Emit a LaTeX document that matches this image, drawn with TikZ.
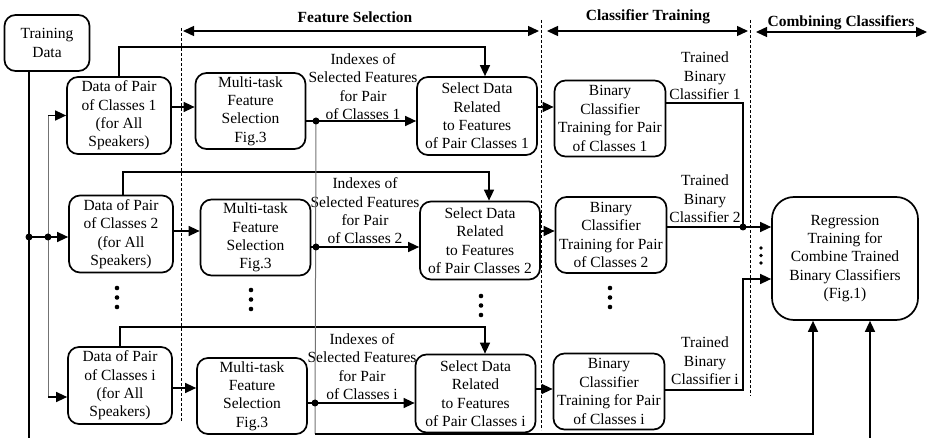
\documentclass[tikz,border=0pt]{standalone}
\usepackage{fontspec}
\setmainfont{Liberation Serif}
\usetikzlibrary{arrows.meta}
\newcommand{\boxfont}{\fontsize{15.5}{18.4}\selectfont}

\begin{document}
\begin{tikzpicture}[x=1pt, y=-1pt, line width=1.4pt,
  box/.style={draw, rounded corners=11pt, line width=1.7pt, inner sep=0pt,
    align=center, font=\boxfont},
  databox/.style={box, minimum width=104, minimum height=77},
  mtbox/.style={box, minimum width=110, minimum height=76},
  selbox/.style={box, minimum width=120, minimum height=78},
  binbox/.style={box, minimum width=111, minimum height=76},
  lbl/.style={align=center, inner sep=0pt, font=\boxfont},
  hdr/.style={inner sep=0pt, font=\boxfont\bfseries},
  arr/.style={-{Triangle[length=11pt,width=10pt]}},
  darr/.style={{Triangle[length=11pt,width=10pt]}-{Triangle[length=11pt,width=10pt]}},
  sep/.style={dashed, line width=0.7pt, dash pattern=on 3pt off 2pt},
  feed/.style={draw=black!55, line width=1pt},
  dot/.style={circle, fill, inner sep=0pt, minimum size=7pt}]
  \useasboundingbox (0,0) rectangle (927,438);

  % headers
  \node[hdr] (hfs) at (355,17) {Feature Selection};
  \node[hdr] (hct) at (648,17) {Classifier Training};
  \node[hdr] (hcc) at (841,23) {Combining Classifiers};
  \draw[darr] (183,31) -- (539,31);
  \draw[darr] (547,31) -- (748,31);
  \draw[darr] (756,32) -- (927,32);
  \draw[sep] (181,28) -- (181,422);
  \draw[sep] (541,20) -- (541,430);
  \draw[sep] (750,20) -- (750,396);

  % boxes
  \node[box, minimum width=85, minimum height=56] (td) at (47,43) {Training\\Data};
  \node[databox] (d1) at (119,115.5) {Data of Pair\\of Classes 1\\(for All\\Speakers)};
  \node[databox] (d2) at (121,234) {Data of Pair\\of Classes 2\\(for All\\Speakers)};
  \node[databox] (di) at (120,385.5) {Data of Pair\\of Classes i\\(for All\\Speakers)};
  \node[mtbox] (m1) at (250.5,111) {Multi-task\\Feature\\Selection\\Fig.3};
  \node[mtbox] (m2) at (255.5,237.5) {Multi-task\\Feature\\Selection\\Fig.3};
  \node[mtbox] (mi) at (252,396) {Multi-task\\Feature\\Selection\\Fig.3};
  \node[selbox] (s1) at (477,116) {Select Data\\Related\\to Features\\of Pair Classes 1};
  \node[selbox] (s2) at (480,240.5) {Select Data\\Related\\to Features\\of Pair Classes 2};
  \node[selbox] (si) at (475.5,393.5) {Select Data\\Related\\to Features\\of Pair Classes i};
  \node[binbox] (b1) at (610,118.5) {Binary\\Classifier\\Training for Pair\\of Classes 1};
  \node[binbox] (b2) at (611,235) {Binary\\Classifier\\Training for Pair\\of Classes 2};
  \node[binbox] (bi) at (609,391.5) {Binary\\Classifier\\Training for Pair\\of Classes i};
  \node[box, rounded corners=22pt, minimum width=146, minimum height=123] (rg) at (845,258.5)
    {Regression\\Training for\\Combine Trained\\Binary Classifiers\\(Fig.1)};

  % labels
  \node[lbl] (x1) at (363,86.5) {Indexes of\\Selected Features\\for Pair\\of Classes 1};
  \node[lbl] (x2) at (365,211) {Indexes of\\Selected Features\\for Pair\\of Classes 2};
  \node[lbl] (xi) at (362,366.5) {Indexes of\\Selected Features\\for Pair\\of Classes i};
  \node[lbl] (t1) at (705,76) {Trained\\Binary\\Classifier 1};
  \node[lbl] (t2) at (705,199) {Trained\\Binary\\Classifier 2};
  \node[lbl] (ti) at (705,361) {Trained\\Binary\\Classifier i};

  % training data fan-out
  \coordinate (tdo) at ([xshift=-18pt]td.south);
  \coordinate (g) at (48,237);
  \coordinate (bot) at (0,438);
  \draw (tdo) -- (tdo |- bot);
  \draw[feed] (g |- d1.west) -- (g |- 0,397);
  \draw (tdo |- g) -- (g);
  \draw[arr] (g) -- (d2.west |- g);
  \draw[arr] (g |- d1.west) -- (d1.west);
  \draw[arr] (g |- 0,397) -- (di.west |- 0,397);
  \node[dot] (g0) at (tdo |- g) {};
  \node[dot] (g1) at (g) {};

  % data -> multi-task
  \draw[arr] (d1.east |- 0,107) -- (m1.west |- 0,107);
  \draw[arr] (d2.east |- 0,231) -- (m2.west |- 0,231);
  \draw[arr] (di.east |- 0,388) -- (mi.west |- 0,388);

  % data -> select data
  \coordinate (u1) at (485,47);
  \coordinate (u2) at (489,172);
  \coordinate (ui) at (485,327);
  \draw[arr] (d1.north) |- (u1) -- (u1 |- s1.north);
  \draw[arr] ([xshift=2pt]d2.north) |- (u2) -- (u2 |- s2.north);
  \draw[arr] (di.north) |- (ui) -- (ui |- si.north);

  % multi-task -> select data
  \coordinate (f1) at (316,121);
  \coordinate (f2) at (316,247);
  \coordinate (fi) at (315,403);
  \coordinate (fb) at (315,434);
  \draw[feed] (f1) -- (fb);
  \draw (m1.east |- f1) -- (f1);
  \draw (m2.east |- f2) -- (f2);
  \draw (mi.east |- fi) -- (fi);
  \draw[arr] (f1) -- (s1.west |- f1);
  \draw[arr] (f2) -- (s2.west |- f2);
  \draw[arr] (fi) -- (si.west |- fi);
  \node[dot] at (f1) {};
  \node[dot] at (f2) {};
  \node[dot] at (fi) {};
  \draw[arr] (fb) -| ([xshift=-32pt]rg.south);
  \draw[arr] (bot -| 870,0) -- (rg.south -| 870,0);

  % select data -> binary
  \draw[arr] (s1.east |- 0,107) -- (b1.west |- 0,107);
  \draw[arr] (s2.east |- 0,231) -- (b2.west |- 0,231);
  \draw[arr] (si.east |- 0,389) -- (bi.west |- 0,389);

  % binary -> regression
  \coordinate (j) at (743,227);
  \coordinate (o1) at (743,103);
  \coordinate (oi) at (743,390);
  \draw (b1.east |- o1) -- (o1) -- (j);
  \draw[arr] (b2.east |- j) -- (rg.west |- j);
  \draw[arr] (bi.east |- oi) -- (oi) |- (rg.west |- 0,279);
  \node[dot] at (j) {};

  % continuation dots
  \foreach \cx/\cy in {117/288, 251/290, 481/296, 610/288}
    \foreach \k in {0,1,2}
      \fill (\cx,\cy+9.5*\k) circle (2.3);
  \foreach \k in {0,1,2}
    \fill (761,248+7.5*\k) circle (1.8);
\end{tikzpicture}
\end{document}
